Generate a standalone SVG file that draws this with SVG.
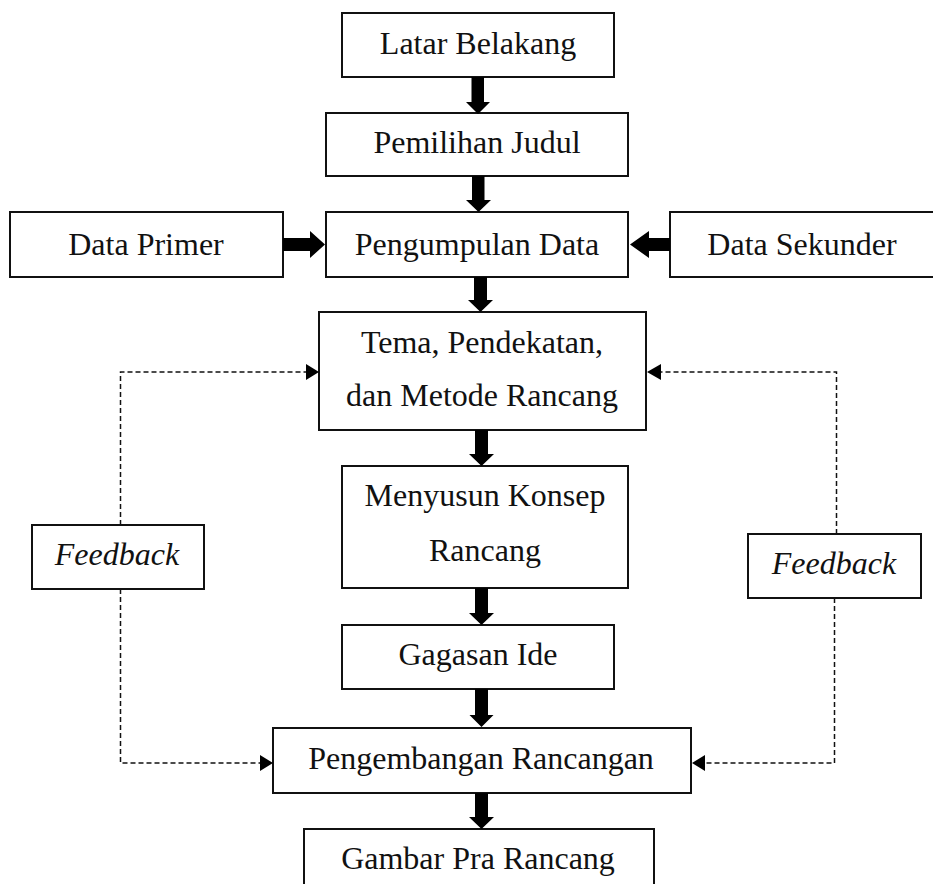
<svg xmlns="http://www.w3.org/2000/svg" width="933" height="884" viewBox="0 0 933 884">
<style>
.box{fill:#fff;stroke:#111;stroke-width:2}
.t{font-family:"Liberation Serif","Times New Roman",serif;font-size:32px;fill:#111;text-anchor:middle}
.it{font-style:italic}
.dash{fill:none;stroke:#111;stroke-width:1.5;stroke-dasharray:5 3}
.ah{fill:#000}
.big{fill:#000}
</style>
<rect width="933" height="884" fill="#fff"/>

<g id="latar"><rect class="box" x="342" y="13" width="272" height="64"/><text class="t" x="478" y="54">Latar Belakang</text></g>
<g id="pemilihan"><rect class="box" x="326" y="113" width="302" height="63"/><text class="t" x="477" y="153">Pemilihan Judul</text></g>
<g id="primer"><rect class="box" x="10" y="212" width="273" height="65"/><text class="t" x="146" y="255">Data Primer</text></g>
<g id="pengumpulan"><rect class="box" x="326" y="212" width="302" height="65"/><text class="t" x="477" y="255">Pengumpulan Data</text></g>
<g id="sekunder"><rect class="box" x="670" y="212" width="270" height="65"/><text class="t" x="802" y="255">Data Sekunder</text></g>
<g id="tema"><rect class="box" x="319" y="312" width="327" height="118"/><text class="t" x="482" y="353">Tema, Pendekatan,</text><text class="t" x="482" y="406">dan Metode Rancang</text></g>
<g id="menyusun"><rect class="box" x="342" y="466" width="286" height="122"/><text class="t" x="485" y="506">Menyusun Konsep</text><text class="t" x="485" y="561">Rancang</text></g>
<g id="feedbackL"><rect class="box" x="32" y="525" width="172" height="64"/><text class="t it" x="117" y="565">Feedback</text></g>
<g id="feedbackR"><rect class="box" x="748" y="534" width="173" height="64"/><text class="t it" x="834" y="574">Feedback</text></g>
<g id="gagasan"><rect class="box" x="342" y="625" width="272" height="64"/><text class="t" x="478" y="665">Gagasan Ide</text></g>
<g id="pengembangan"><rect class="box" x="273" y="728" width="418" height="65"/><text class="t" x="481" y="769">Pengembangan Rancangan</text></g>
<g id="gambar"><rect class="box" x="304" y="829" width="350" height="70"/><text class="t" x="478" y="869">Gambar Pra Rancang</text></g>

<g id="connectors">
<path class="big" d="M471.5,77 H484 V102 H490 L478,114 L466,102 H471.5 Z"/>
<path class="big" d="M472,176 H484.5 V200 H491 L478.5,212 L466,200 H472 Z"/>
<path class="big" d="M283,238 H310 V231 L325,244.5 L310,258 V251 H283 Z"/>
<path class="big" d="M670,238 H649 V231 L630,244.5 L649,258 V251 H670 Z"/>
<path class="big" d="M474,277 H487 V300 H493 L480.5,312 L468,300 H474 Z"/>
<path class="big" d="M475,430 H488 V454 H494 L481.5,466 L469,454 H475 Z"/>
<path class="big" d="M475,588 H488 V613 H494 L481.5,625 L469,613 H475 Z"/>
<path class="big" d="M475,689 H488 V715 H493.5 L481.5,727 L469.5,715 H475 Z"/>
<path class="big" d="M475,793 H488 V817 H494 L481.5,829 L469,817 H475 Z"/>

<path class="dash" d="M120.5,525 V372 H307"/>
<path class="ah" d="M306,364 L319,372 L306,380 Z"/>
<path class="dash" d="M120.5,589 V763 H260"/>
<path class="ah" d="M260,755 L273,763 L260,771 Z"/>
<path class="dash" d="M836.5,534 V372 H660"/>
<path class="ah" d="M661,364 L647,372 L661,380 Z"/>
<path class="dash" d="M834.5,598 V763 H704"/>
<path class="ah" d="M705,755 L692,763 L705,771 Z"/>
</g>
</svg>
